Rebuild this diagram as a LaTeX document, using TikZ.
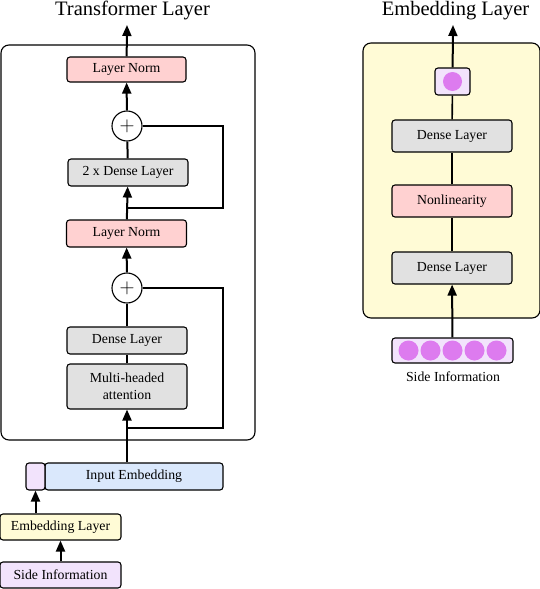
\documentclass[tikz,border=0pt]{standalone}
\usepackage{fontspec}
\setmainfont{Liberation Serif}
\usepackage{tikz}
\usetikzlibrary{positioning}
\usetikzlibrary{arrows.meta}
\usepackage{xcolor}

\definecolor{normpink}{HTML}{FFD1D1}
\definecolor{densegrey}{HTML}{E1E1E1}
\definecolor{embblue}{HTML}{DAE8FC}
\definecolor{tokpurple}{HTML}{F2E3FC}
\definecolor{embyellow}{HTML}{FFFBD6}
\definecolor{dotpink}{HTML}{DD7BEF}

\tikzset{
    blk/.style={draw, line width=1.1pt, rounded corners=3pt, inner sep=0pt,
        minimum width=120pt, minimum height=27pt, align=center,
        font=\fontsize{13.8}{16.5}\selectfont},
    plus/.style={draw, circle, line width=1.1pt, fill=white, inner sep=0pt, minimum size=30pt},
    ttl/.style={font=\fontsize{20.5}{24}\selectfont, anchor=base, inner sep=0pt},
    flow/.style={line width=2pt, -{Triangle[length=11pt,width=9pt]}},
    wire/.style={line width=2pt}
}

\begin{document}
\begin{tikzpicture}[x=1pt,y=-1pt]
\useasboundingbox (0,0) rectangle (540,589);

% transformer layer
\node[ttl] (ttlT) at (132.5,15.5) {Transformer Layer};
\draw[line width=1.1pt, rounded corners=8pt] (1,45) rectangle (255,440);

\node[blk, fill=normpink, minimum width=119pt, minimum height=25pt] (lnB) at (126.5,69.5) {Layer Norm};
\node[plus] (addB) at (127,126) {\fontsize{20}{20}\selectfont$+$};
\node[blk, fill=densegrey] (denseB) at (128,172.5) {2 x Dense Layer};
\node[blk, fill=normpink] (lnA) at (126.5,233.5) {Layer Norm};
\node[plus] (addA) at (127,288) {\fontsize{20}{20}\selectfont$+$};
\node[blk, fill=densegrey] (denseA) at (127,340.5) {Dense Layer};
\node[blk, fill=densegrey, minimum height=45pt] (mha) at (127,386.5) {Multi-headed\\attention};

\node[blk, fill=embblue, minimum width=178pt] (inemb) at (134,476.5) {Input Embedding};
\node[blk, fill=tokpurple, minimum width=19pt] (tok) at (35.5,476.5) {};
\node[blk, fill=embyellow, minimum width=121pt, minimum height=26pt] (embl) at (60.5,527) {Embedding Layer};
\node[blk, fill=tokpurple, minimum width=121pt, minimum height=26pt] (side) at (60.5,575) {Side Information};

\coordinate (outT) at (127,25);
\coordinate (loopB) at (223,208);
\coordinate (loopA) at (223,428);

\draw[flow] (lnB) -- (outT);
\draw[flow] (addB) -- (lnB);
\draw[wire] (denseB) -- (addB);
\draw[flow] (lnA) -- (denseB);
\draw[wire] (addB.east) -| (loopB) -- (loopB -| lnA);
\draw[flow] (addA) -- (lnA);
\draw[wire] (denseA) -- (addA);
\draw[wire] (mha) -- (denseA);
\draw[flow] (mha.south |- inemb.north) -- (mha);
\draw[wire] (addA.east) -| (loopA) -- (loopA -| mha);
\draw[flow] (tok.south |- embl.north) -- (tok);
\draw[flow] (side) -- (embl);

% embedding layer
\node[ttl] (ttlE) at (455.5,15.5) {Embedding Layer};
\draw[line width=1.1pt, fill=embyellow, rounded corners=8pt] (363,43) rectangle (540,318);

\node[blk, fill=tokpurple, minimum width=35pt] (out) at (452.5,81.5) {};
\fill[dotpink] (out.center) circle (9.5pt);
\node[blk, fill=densegrey, minimum height=32pt] (denseD) at (452,136) {Dense Layer};
\node[blk, fill=normpink, minimum height=32pt] (nonlin) at (452,201) {Nonlinearity};
\node[blk, fill=densegrey, minimum height=32pt] (denseC) at (452,268) {Dense Layer};
\node[blk, fill=tokpurple, minimum width=121pt, minimum height=25pt] (dots) at (452.5,350.5) {};
\foreach \dx in {-44,-22,0,22,44}
    \fill[dotpink] ([xshift=\dx pt]dots.center) circle (10pt);
\node[font=\fontsize{13.8}{16.5}\selectfont] (sideE) at (453,377) {Side Information};

\coordinate (outE) at (453,25);
\draw[flow] (out) -- (outE);
\draw[wire, line width=1.6pt] (denseD) -- (out);
\draw[wire, line width=1.6pt] (nonlin) -- (denseD);
\draw[wire, line width=1.6pt] (denseC) -- (nonlin);
\draw[flow] (dots) -- (denseC);

\end{tikzpicture}
\end{document}
